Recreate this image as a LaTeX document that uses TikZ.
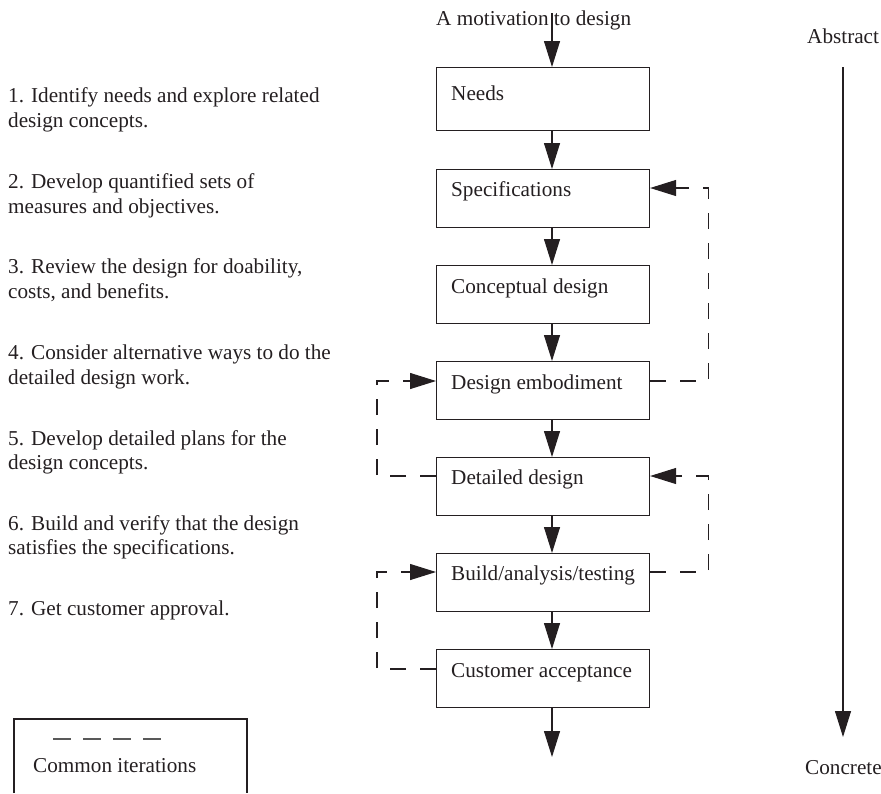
\documentclass[tikz,border=0pt]{standalone}
\usepackage{fontspec}
\setmainfont{Liberation Serif}
\usetikzlibrary{arrows.meta,calc}
\definecolor{ink}{rgb}{0.14,0.12,0.13}
\definecolor{legendgray}{rgb}{0.35,0.35,0.35}
\begin{document}
\begin{tikzpicture}[x=1pt,y=-1pt,
  font=\fontsize{21.2}{25}\selectfont,
  txt/.style={inner sep=0pt,anchor=base west,text=ink},
  stage/.style={draw=ink,line width=1.1pt,anchor=north west,
    minimum width=213pt,minimum height=58pt,inner sep=0pt},
  tip/.style={-{Triangle[length=26pt,width=16pt]}},
  flow/.style={draw=ink,line width=1.1pt,tip},
  iter/.style={draw=ink,line width=1.1pt,tip,dash pattern=on 16pt off 14pt}]
\useasboundingbox (0,0) rectangle (881,793);

% step descriptions on the left
\foreach \y/\t in {102/{1. Identify needs and explore related},127/{design concepts.},
  188/{2. Develop quantified sets of},213/{measures and objectives.},
  273/{3. Review the design for doability,},298/{costs, and benefits.},
  359/{4. Consider alternative ways to do the},384/{detailed design work.},
  445/{5. Develop detailed plans for the},469/{design concepts.},
  530/{6. Build and verify that the design},554/{satisfies the specifications.},
  615/{7. Get customer approval.}}
  \node[txt] (step\y) at (8,\y) {\t};

% design stages
\node[stage,minimum height=63pt] (needs) at (436,67) {};
\node[stage] (spec) at (436,169) {};
\node[stage] (concept) at (436,265) {};
\node[stage] (embod) at (436,361) {};
\node[stage] (detail) at (436,457) {};
\node[stage] (build) at (436,553) {};
\node[stage] (cust) at (436,649) {};

\node[txt] (needsT) at ([xshift=15pt,yshift=-33pt]needs.north west) {Needs};
\node[txt] (specT) at ([xshift=15pt,yshift=-27pt]spec.north west) {Specifications};
\node[txt] (conceptT) at ([xshift=15pt,yshift=-28pt]concept.north west) {Conceptual design};
\node[txt] (embodT) at ([xshift=15pt,yshift=-28pt]embod.north west) {Design embodiment};
\node[txt] (detailT) at ([xshift=15pt,yshift=-27pt]detail.north west) {Detailed design};
\node[txt] (buildT) at ([xshift=15pt,yshift=-27pt]build.north west) {Build/analysis/testing};
\node[txt] (custT) at ([xshift=15pt,yshift=-28pt]cust.north west) {Customer acceptance};

% main flow
\node[txt] (motiv) at (436,25) {A motivation to design};
\coordinate (col) at (552,0);
\coordinate (start) at (552,13);
\coordinate (finish) at (552,757);
\draw[flow] (start) -- (needs.north -| col);
\draw[flow] (needs.south -| col) -- (spec.north -| col);
\draw[flow] (spec.south -| col) -- (concept.north -| col);
\draw[flow] (concept.south -| col) -- (embod.north -| col);
\draw[flow] (embod.south -| col) -- (detail.north -| col);
\draw[flow] (detail.south -| col) -- (build.north -| col);
\draw[flow] (build.south -| col) -- (cust.north -| col);
\draw[flow] (cust.south -| col) -- (finish);

% iteration loops
\draw[iter] ([yshift=-20pt]embod.north east) -- ++(58pt,0) |- ([yshift=-19pt]spec.north east);
\draw[iter] ([yshift=-19pt]build.north east) -- ++(58pt,0) |- ([yshift=-19pt]detail.north east);
\draw[iter] ([yshift=-19pt]detail.north west) -- ++(-59pt,0) |- ([yshift=-20pt]embod.north west);
\draw[iter] ([yshift=-20pt]cust.north west) -- ++(-59pt,0) |- ([yshift=-19pt]build.north west);

% abstraction scale
\node[txt] (abstract) at (807,43) {Abstract};
\node[txt] (concrete) at (805,774) {Concrete};
\coordinate (scaleTop) at (843,67);
\coordinate (scaleEnd) at (843,737);
\draw[flow] (scaleTop) -- (scaleEnd);

% legend
\draw[draw=ink,line width=1.1pt] (14,793) -- (14,719) -- (247,719) -- (247,793);
\coordinate (legA) at (53,739);
\coordinate (legB) at (161,739);
\draw[draw=legendgray,line width=1.1pt,dash pattern=on 18pt off 12pt] (legA) -- (legB);
\node[txt] (legendT) at (33,772) {Common iterations};
\end{tikzpicture}
\end{document}
